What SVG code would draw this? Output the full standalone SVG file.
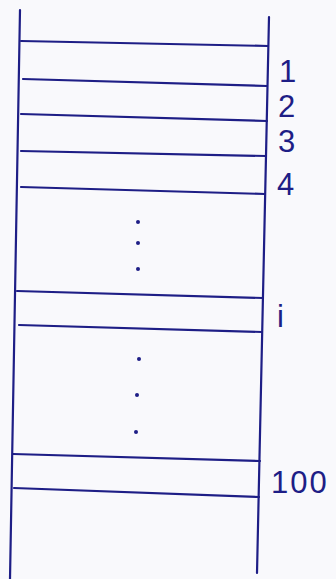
<svg xmlns="http://www.w3.org/2000/svg" width="336" height="579" viewBox="0 0 336 579">
<style>
.ink{stroke:#1e1e86;stroke-width:2.2;fill:none;stroke-linecap:round}
.lbl{font-family:"Liberation Sans","DejaVu Sans",sans-serif;font-size:31px;fill:#1e1e86}
.dot{fill:#1e1e86}
</style>
<rect width="336" height="579" fill="#f9f9fc"/>
<g id="connectors">
<path class="ink" d="M20,10 L10,579"/>
<path class="ink" d="M269,17 L257,573"/>
</g>
<g id="rung1"><path class="ink" d="M21,41 L268,46"/></g>
<g id="rung2"><path class="ink" d="M23,79 L267,86"/></g>
<g id="rung3"><path class="ink" d="M21,114 L267,121"/></g>
<g id="rung4"><path class="ink" d="M21,151 L266,156"/></g>
<g id="rung5"><path class="ink" d="M21,187 L265,194"/></g>
<g id="rung6"><path class="ink" d="M17,291 L263,298"/></g>
<g id="rung7"><path class="ink" d="M19,325 L262,332"/></g>
<g id="rung8"><path class="ink" d="M13,454 L260,461"/></g>
<g id="rung9"><path class="ink" d="M14,488 L259,497"/></g>
<g id="labels">
<text class="lbl" x="279" y="82">1</text>
<text class="lbl" x="278" y="117">2</text>
<text class="lbl" x="278" y="152">3</text>
<text class="lbl" x="277" y="195">4</text>
<text class="lbl" x="277" y="327">i</text>
<text class="lbl" x="271" y="493" letter-spacing="2">100</text>
</g>
<g id="dots">
<circle class="dot" cx="138" cy="222" r="2"/>
<circle class="dot" cx="138" cy="243" r="2"/>
<circle class="dot" cx="138" cy="269" r="2"/>
<circle class="dot" cx="139" cy="359" r="2"/>
<circle class="dot" cx="137" cy="395" r="2"/>
<circle class="dot" cx="136" cy="432" r="2"/>
</g>
</svg>
